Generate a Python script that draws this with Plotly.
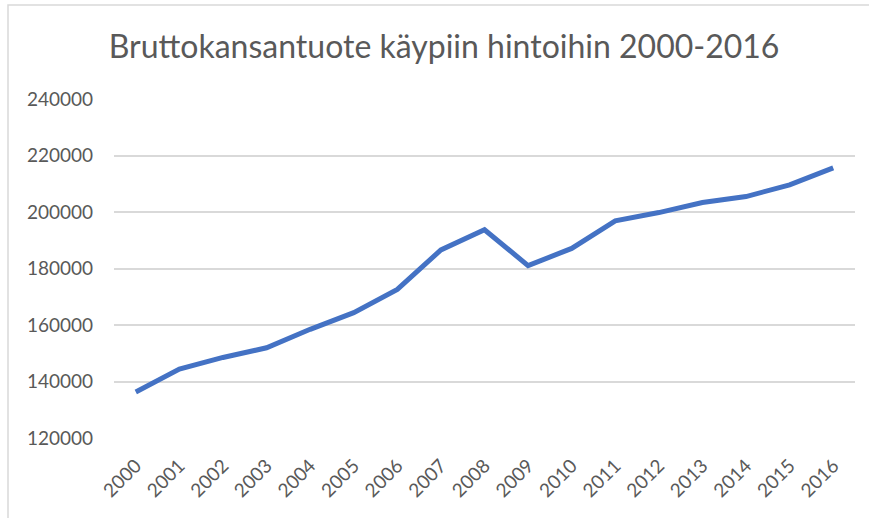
import plotly.graph_objects as go

years = [str(y) for y in range(2000, 2017)]
gdp = [136261, 144367, 148517, 151933, 158477, 164387, 172614, 186584, 193711,
       181029, 187100, 196869, 199793, 203338, 205474, 209604, 215615]
y_ticks = [120000, 140000, 160000, 180000, 200000, 220000, 240000]
title_text = "Bruttokansantuote käypiin hintoihin 2000-2016"

FONT = "Lato"
GRAY = "#595959"

fig = go.Figure()
fig.add_trace(go.Scatter(
    x=years, y=gdp, mode="lines",
    line=dict(color="#4472C4", width=5),
    hoverinfo="x+y", showlegend=False,
))

fig.update_layout(
    width=869, height=518,
    margin=dict(l=114, r=14, t=99, b=80),
    paper_bgcolor="white", plot_bgcolor="white",
    font=dict(family=FONT, color=GRAY),
    title=dict(text=title_text, x=0.511, xref="container", xanchor="center",
               y=1 - 47 / 518, yref="container", yanchor="middle",
               font=dict(family=FONT, size=32, color=GRAY)),
    xaxis=dict(type="category", tickangle=-45, showgrid=False, showline=False,
               ticks="", tickfont=dict(size=19, color=GRAY), ticklabelstandoff=12,
               range=[-0.5, len(years) - 0.5]),
    yaxis=dict(range=[120000, 240000], tickvals=y_ticks,
               ticktext=[str(v) for v in y_ticks],
               showgrid=True, gridcolor="#D9D9D9", gridwidth=1.5,
               zeroline=False, showline=False, ticks="",
               tickfont=dict(size=19, color=GRAY), ticklabelstandoff=20),
    shapes=[dict(type="rect", xref="paper", yref="paper",
                 x0=(8 - 114) / 741, x1=(880 - 114) / 741,
                 y0=(437.7 - 525) / 338.7, y1=(437.7 - 5) / 338.7,
                 line=dict(color="#D9D9D9", width=1.5), layer="below")],
)

fig.write_html("out.html", config={"displayModeBar": False},
               post_script="document.body.style.margin='0';document.body.style.padding='0';")
